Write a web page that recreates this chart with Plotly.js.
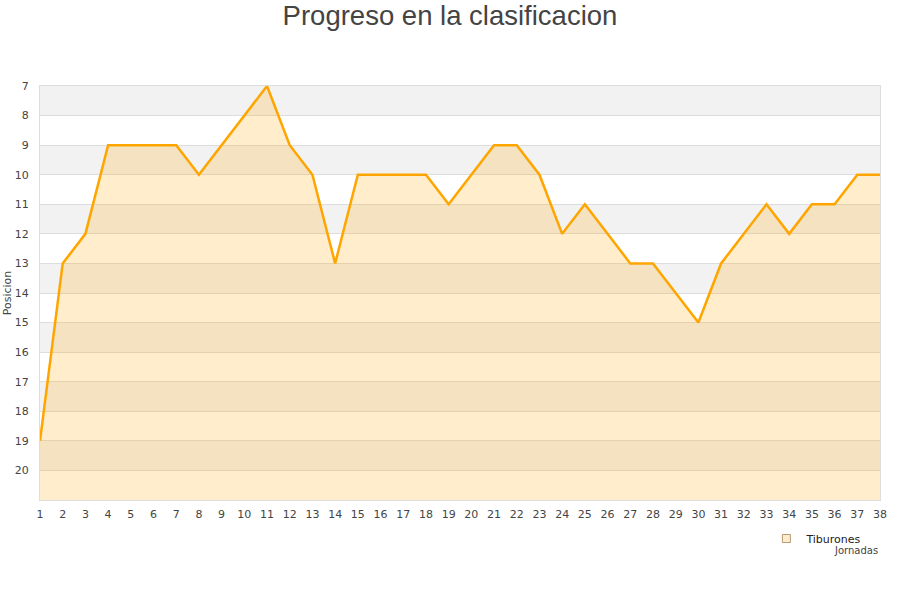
<!DOCTYPE html>
<html>
<head>
<meta charset="utf-8">
<script src="https://cdn.plot.ly/plotly-3.0.1.min.js"></script>
<style>
  html, body { margin: 0; padding: 0; background: #fff; }
  #chart { width: 900px; height: 600px; }
</style>
</head>
<body>
<div id="chart"></div>
<script>
// Jornadas y posicion de cada jornada
const jornadas = [];
for (let j = 1; j <= 38; j++) jornadas.push(j);

const posiciones = [19, 13, 12, 9, 9, 9, 9, 10, 9, 8,
                    7, 9, 10, 13, 10, 10, 10, 10, 11, 10,
                    9, 9, 10, 12, 11, 12, 13, 13, 14, 15,
                    13, 12, 11, 12, 11, 11, 10, 10];

const posTicks = [7, 8, 9, 10, 11, 12, 13, 14, 15, 16, 17, 18, 19, 20];
const fondoPos = 21; // fondo del area
const equipo = 'Tiburones';

// bandas alternas grises (de impar a par)
const bandas = [];
posTicks.forEach(p => {
    if (p % 2 === 1) {
        bandas.push({
            type: 'rect', xref: 'paper', yref: 'y',
            x0: 0, x1: 1, y0: p, y1: p + 1,
            fillcolor: '#f2f2f2', line: { width: 0 }, layer: 'below'
        });
    }
});

const base = {
    x: jornadas,
    y: jornadas.map(() => fondoPos),
    mode: 'lines',
    line: { width: 0 },
    showlegend: false,
    hoverinfo: 'skip'
};

const serie = {
    x: jornadas,
    y: posiciones,
    mode: 'lines',
    name: equipo,
    fill: 'tonexty',
    fillcolor: 'rgba(255,165,0,0.2)',
    line: { color: '#ffa500', width: 2.5 },
    showlegend: false
};

// solo para la leyenda (cuadrado)
const leyenda = {
    x: [null],
    y: [null],
    mode: 'markers',
    name: equipo,
    marker: { symbol: 'square', size: 8, color: '#ffeccc', line: { color: '#b89a70', width: 1 } },
    showlegend: true
};

const layout = {
    width: 900,
    height: 600,
    title: {
        text: 'Progreso en la clasificacion',
        font: { family: 'Liberation Sans, Arial, sans-serif', size: 27.5, color: '#444' },
        x: 0.5, xanchor: 'center', y: 0.975, yanchor: 'middle'
    },
    font: { family: 'DejaVu Sans, sans-serif', size: 11, color: '#444' },
    margin: { l: 40, r: 20, t: 86, b: 100 },
    plot_bgcolor: '#fff',
    paper_bgcolor: '#fff',
    shapes: bandas,
    xaxis: {
        range: [1, 38],
        tickvals: jornadas,
        showgrid: false,
        zeroline: false,
        showline: true,
        mirror: true,
        linecolor: '#ddd',
        ticks: 'outside', ticklen: 4, tickcolor: 'rgba(0,0,0,0)',
        tickfont: { size: 11, color: '#444' }
    },
    yaxis: {
        range: [fondoPos, 7],
        tickvals: posTicks,
        showgrid: true,
        gridcolor: '#ddd',
        zeroline: false,
        showline: true,
        mirror: true,
        linecolor: '#ddd',
        ticks: 'outside', ticklen: 8, tickcolor: 'rgba(0,0,0,0)',
        tickfont: { size: 11, color: '#444' },
        title: { text: 'Posicion', font: { size: 11, color: '#444' }, standoff: 0 }
    },
    annotations: [{
        text: 'Jornadas', xref: 'paper', yref: 'paper',
        x: 1.0, y: -0.123, xanchor: 'right', yanchor: 'middle',
        showarrow: false, font: { size: 10, color: '#444' }
    }],
    legend: {
        x: 0.985, y: -0.058, xanchor: 'right', yanchor: 'top',
        bgcolor: 'rgba(0,0,0,0)',
        font: { size: 11, color: '#222' }
    },
    showlegend: true
};

Plotly.newPlot('chart', [base, serie, leyenda], layout, { displayModeBar: false, staticPlot: true });
</script>
</body>
</html>
